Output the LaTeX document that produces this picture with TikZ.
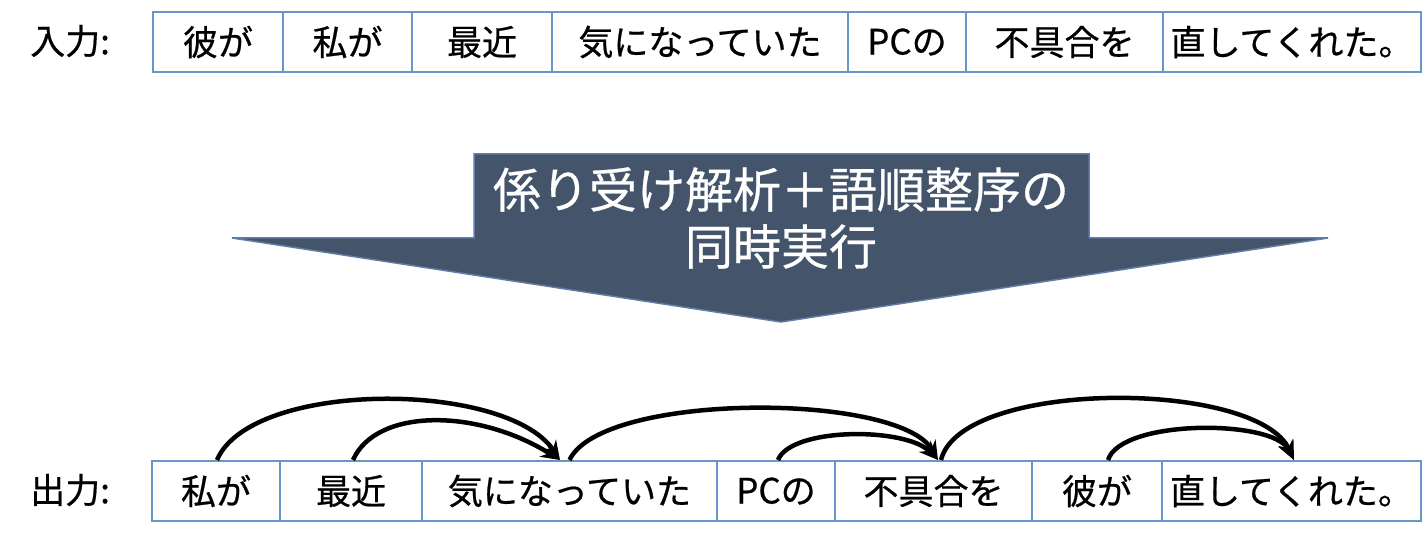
\documentclass[tikz,border=0pt]{standalone}
\usepackage{fontspec}
\setmainfont{Noto Sans CJK JP}[FakeBold=0.6]
\usetikzlibrary{arrows.meta}
\definecolor{boxline}{RGB}{105,150,200}
\definecolor{bigarrow}{RGB}{68,84,106}
\definecolor{bigedge}{RGB}{95,125,165}
\tikzset{
 wbox/.style={draw=boxline, line width=2pt, minimum height=60pt, inner sep=0pt, anchor=north west, font=\fontsize{35}{40}\selectfont, text=black},
 dep/.style={line width=4.5pt, -{Stealth[length=19pt,width=16pt]}},
 rowlabel/.style={anchor=west, font=\fontsize{35}{40}\selectfont, inner sep=0pt},
 arrowtext/.style={text=white, align=center, font=\fontsize{48}{57}\selectfont, inner sep=0pt}
}
\begin{document}
\begin{tikzpicture}[x=1pt,y=-1pt]
\useasboundingbox (0,0) rectangle (1428,537);
% input row
\node[rowlabel] (inlabel) at (30,41) {入力:};
\node[wbox, minimum width=130pt] (i1) at (152,11) {彼が};
\node[wbox, minimum width=129pt] (i2) at (282,11) {私が};
\node[wbox, minimum width=140pt] (i3) at (411,11) {最近};
\node[wbox, minimum width=296pt] (i4) at (551,11) {気になっていた};
\node[wbox, minimum width=118pt] (i5) at (847,11) {PCの};
\node[wbox, minimum width=197pt] (i6) at (965,11) {不具合を};
\node[wbox, minimum width=258pt] (i7) at (1162,11) {直してくれた。};
% big arrow
\path[fill=bigarrow, draw=bigedge, line width=1.5pt]
  (474,154) -- (1089,154) -- (1089,238) -- (1328,238) -- (781,322)
  -- (232,238) -- (474,238) -- cycle;
\node[arrowtext] (proc) at (781,218) {係り受け解析＋語順整序の\\同時実行};
% output row
\node[rowlabel] (outlabel) at (30,490) {出力:};
\node[wbox, minimum width=128pt] (o1) at (151,460) {私が};
\node[wbox, minimum width=142pt] (o2) at (279,460) {最近};
\node[wbox, minimum width=295pt] (o3) at (421,460) {気になっていた};
\node[wbox, minimum width=118pt] (o4) at (716,460) {PCの};
\node[wbox, minimum width=197pt] (o5) at (834,460) {不具合を};
\node[wbox, minimum width=130pt] (o6) at (1031,460) {彼が};
\node[wbox, minimum width=259pt] (o7) at (1161,460) {直してくれた。};
% dependencies
\draw[dep] ([xshift=1pt]o1.north) .. controls +(34,-80) and +(-54,-80) .. ([xshift=-9.5pt]o3.north);
\draw[dep] ([xshift=2pt]o2.north) .. controls +(23,-52) and +(-83,-52) .. ([xshift=-9.5pt]o3.north);
\draw[dep] ([xshift=0pt]o3.north) .. controls +(32,-68) and +(-39,-68) .. ([xshift=4.5pt]o5.north);
\draw[dep] ([xshift=2pt]o4.north) .. controls +(13,-33) and +(-32,-33) .. ([xshift=4.5pt]o5.north);
\draw[dep] ([xshift=7.5pt]o5.north) .. controls +(20,-81) and +(-37,-81) .. ([xshift=2.5pt]o7.north);
\draw[dep] ([xshift=11pt]o6.north) .. controls +(13,-41) and +(-21,-41) .. ([xshift=2.5pt]o7.north);
\end{tikzpicture}
\end{document}
